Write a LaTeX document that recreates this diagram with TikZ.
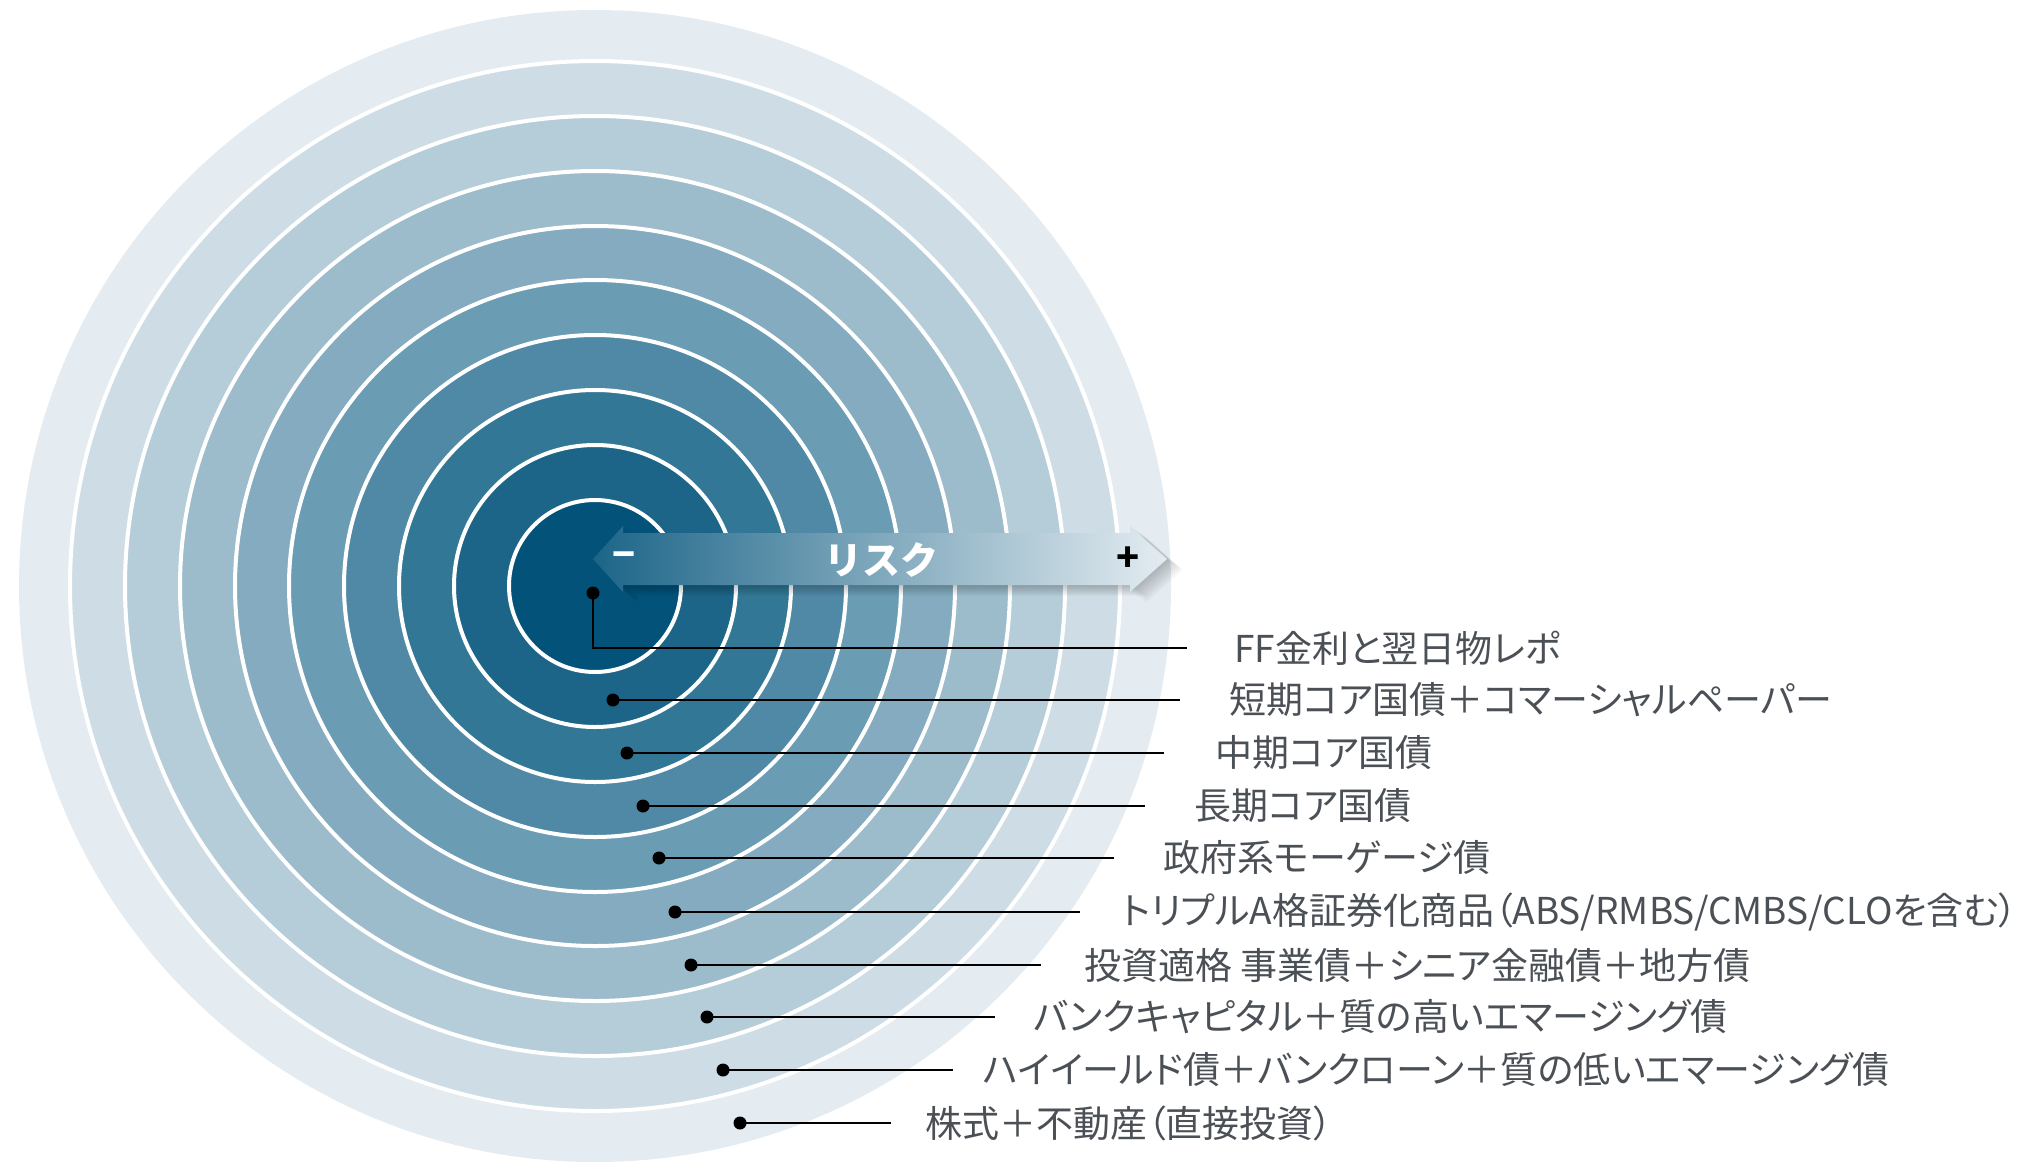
\documentclass[tikz,border=0pt]{standalone}
\usepackage{fontspec}
\newfontfamily\jpfont[RawFeature={+palt}]{Noto Sans CJK JP}
\newfontfamily\jpplain{Noto Sans CJK JP}
\definecolor{ring0}{HTML}{03527A}
\definecolor{ring1}{HTML}{1C6588}
\definecolor{ring2}{HTML}{327896}
\definecolor{ring3}{HTML}{5089A6}
\definecolor{ring4}{HTML}{6A9CB4}
\definecolor{ring5}{HTML}{84ABBF}
\definecolor{ring6}{HTML}{9CBCCC}
\definecolor{ring7}{HTML}{B5CDD9}
\definecolor{ring8}{HTML}{CEDDE5}
\definecolor{ring9}{HTML}{E4ECF1}
\definecolor{labelgray}{HTML}{4B5056}
\tikzset{
  ldot/.style={circle,fill=black,inner sep=0pt,minimum size=13pt},
  lbl/.style={anchor=west,inner sep=0pt,text=labelgray,font=\jpfont\fontsize{37}{40}\selectfont},
  leader/.style={line width=2.2pt},
  ring/.style={draw=white,line width=4pt},
  risktext/.style={inner sep=0pt,font=\jpplain\bfseries\fontsize{38}{40}\selectfont},
}
\newcommand{\riskarrow}{(593,559) -- (623,526) -- (623,533) -- (1130,533) -- (1130,526) -- (1167,559) -- (1130,592) -- (1130,585) -- (623,585) -- (623,592) -- cycle}

\begin{document}
\begin{tikzpicture}[x=1pt,y=-1pt]
\useasboundingbox (0,0) rectangle (2043,1173);
\coordinate (C) at (595,586);
% rings
\fill[ring9] (C) circle (576pt);
\foreach \r/\c in {525/ring8,470/ring7,415/ring6,360/ring5,306/ring4,251/ring3,196/ring2,141/ring1,86/ring0}
  \filldraw[ring,fill=\c] (C) circle (\r pt);
% arrow
\foreach \s in {1,...,10}
  \fill[black,opacity=0.025,shift={(1.6*\s,1.1*\s)}] \riskarrow;
\shade[left color=ring1,middle color=ring4,right color=ring9] \riskarrow;
\node[risktext,text=white] (risk) at (881,560) {リスク};
\node[risktext,text=white] (minus) at (624,560) {−};
\node[risktext,text=black] (plus) at (1128,559) {+};
% labels
\node[ldot] (d1) at (593,593) {};
\node[ldot] (d2) at (613,700) {};
\node[ldot] (d3) at (627,753) {};
\node[ldot] (d4) at (643,806) {};
\node[ldot] (d5) at (659,858) {};
\node[ldot] (d6) at (675,912) {};
\node[ldot] (d7) at (691,965) {};
\node[ldot] (d8) at (707,1017) {};
\node[ldot] (d9) at (723,1070) {};
\node[ldot] (d10) at (740,1123) {};
\coordinate (e1) at (1187,648);
\coordinate (e2) at (1180,700);
\coordinate (e3) at (1164,753);
\coordinate (e4) at (1145,806);
\coordinate (e5) at (1114,858);
\coordinate (e6) at (1080,912);
\coordinate (e7) at (1041,965);
\coordinate (e8) at (995,1017);
\coordinate (e9) at (953,1070);
\coordinate (e10) at (891,1123);
\node[lbl] (t1) at (1234,648) {FF金利と翌日物レポ};
\node[lbl] (t2) at (1229,700) {短期コア国債＋コマーシャルペーパー};
\node[lbl] (t3) at (1215,753) {中期コア国債};
\node[lbl] (t4) at (1194,806) {長期コア国債};
\node[lbl] (t5) at (1163,858) {政府系モーゲージ債};
\node[lbl] (t6) at (1122,912) {トリプルA格証券化商品（ABS/RMBS/CMBS/CLOを含む）};
\node[lbl] (t7) at (1084,965) {投資適格 事業債＋シニア金融債＋地方債};
\node[lbl] (t8) at (1033,1017) {バンクキャピタル＋質の高いエマージング債};
\node[lbl] (t9) at (983,1070) {ハイイールド債＋バンクローン＋質の低いエマージング債};
\node[lbl] (t10) at (925,1123) {株式＋不動産（直接投資）};
\draw[leader] (d1.center) |- (e1);
\draw[leader] (d2.center) -- (e2);
\draw[leader] (d3.center) -- (e3);
\draw[leader] (d4.center) -- (e4);
\draw[leader] (d5.center) -- (e5);
\draw[leader] (d6.center) -- (e6);
\draw[leader] (d7.center) -- (e7);
\draw[leader] (d8.center) -- (e8);
\draw[leader] (d9.center) -- (e9);
\draw[leader] (d10.center) -- (e10);
\end{tikzpicture}
\end{document}
